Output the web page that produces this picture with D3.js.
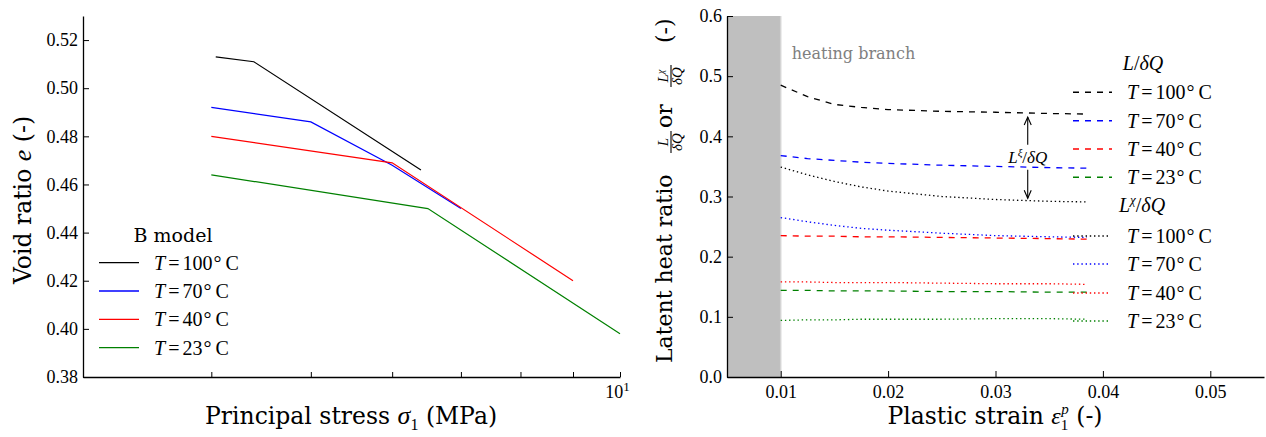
<!DOCTYPE html>
<html><head><meta charset="utf-8">
<script src="https://cdn.jsdelivr.net/npm/d3@7"></script>
<style>body{margin:0;background:#fff} svg{display:block}
.sf{font-family:'DejaVu Serif', serif}
.mf{font-family:'Liberation Serif', 'Times New Roman', serif}
</style>
</head><body><svg id="c" width="1266" height="437"></svg>
<script>
// ---------- LEFT PANEL DATA ----------
const stressDomain = [3, 10];
const voidDomain = [0.38, 0.53];
const stressTicks = [3, 4, 5, 6, 7, 8, 9, 10];
const voidTicks = [0.38, 0.40, 0.42, 0.44, 0.46, 0.48, 0.50, 0.52];
const temps = [100, 70, 40, 23];
const tempColors = ["#000000", "#0000ff", "#ff0000", "#008000"];
const b100Stress = [4.04, 4.4, 6.4];
const b100Void = [0.513, 0.511, 0.466];
const b70Stress = [4.0, 5.0, 6.0, 7.0];
const b70Void = [0.492, 0.486, 0.468, 0.450];
const b40Stress = [4.0, 6.0, 9.0];
const b40Void = [0.480, 0.469, 0.420];
const b23Stress = [4.0, 6.5, 10.0];
const b23Void = [0.464, 0.450, 0.398];

// ---------- RIGHT PANEL DATA ----------
const strainDomain = [0.005, 0.055];
const ratioDomain = [0, 0.6];
const strainTicks = [0.01, 0.02, 0.03, 0.04, 0.05];
const ratioTicks = [0.0, 0.1, 0.2, 0.3, 0.4, 0.5, 0.6];
const heatingSpan = [0.005, 0.01];
const strain = [0.01, 0.0125, 0.015, 0.0175, 0.02, 0.025, 0.03, 0.035, 0.0385];
const L100 = [0.485, 0.466, 0.453, 0.448, 0.4445, 0.4415, 0.440, 0.438, 0.437];
const L70  = [0.368, 0.363, 0.360, 0.357, 0.355, 0.352, 0.350, 0.348, 0.347];
const L40  = [0.235, 0.234, 0.234, 0.233, 0.233, 0.232, 0.231, 0.230, 0.229];
const L23  = [0.144, 0.144, 0.143, 0.143, 0.143, 0.142, 0.142, 0.141, 0.141];
const Lx100 = [0.349, 0.336, 0.325, 0.316, 0.309, 0.300, 0.295, 0.292, 0.291];
const Lx70  = [0.265, 0.258, 0.252, 0.247, 0.244, 0.239, 0.235, 0.233, 0.232];
const Lx40  = [0.158, 0.158, 0.157, 0.157, 0.157, 0.156, 0.155, 0.155, 0.154];
const Lx23  = [0.094, 0.095, 0.095, 0.096, 0.096, 0.096, 0.097, 0.097, 0.096];
const annotStrain = 0.033;
const annotTop = 0.432, annotBottom = 0.297, annotText = 0.366;

const svg = d3.select("#c");
const DOT = "1.4,2.8";

function styleAxis(g) {
  g.attr("font-family", null);
  g.select(".domain").attr("stroke", "#000").attr("stroke-width", 1.3);
  g.selectAll(".tick line").attr("stroke", "#000").attr("stroke-width", 1);
  g.selectAll(".tick text").attr("class", "mf").attr("font-size", 18).attr("fill", "#000");
}

function tempLabel(sel, x, y, t) {
  const txt = sel.append("text").attr("x", x).attr("y", y)
    .attr("class", "mf").attr("font-size", 20).attr("fill", "#000");
  txt.append("tspan").attr("font-style", "italic").text("T");
  txt.append("tspan").attr("dx", 3).text("=");
  txt.append("tspan").attr("dx", 3).text(String(t));
  txt.append("tspan").attr("dx", 1).text("°");
  txt.append("tspan").attr("dx", 4).text("C");
}

// ================= LEFT PANEL =================
const xL = d3.scaleLog().domain(stressDomain).range([83, 620]);
const yL = d3.scaleLinear().domain(voidDomain).range([377, 16]);

const leftSeries = [
  [b100Stress, b100Void], [b70Stress, b70Void], [b40Stress, b40Void], [b23Stress, b23Void]
];
const lineL = d3.line().x(d => xL(d[0])).y(d => yL(d[1]));
leftSeries.forEach((s, i) => {
  svg.append("path").datum(d3.zip(s[0], s[1])).attr("d", lineL)
    .attr("fill", "none").attr("stroke", tempColors[i]).attr("stroke-width", 1.2);
});

const gLy = svg.append("g").attr("transform", `translate(${xL.range()[0]},0)`)
  .call(d3.axisLeft(yL).tickValues(voidTicks).tickFormat(d3.format(".2f"))
    .tickSizeInner(-6).tickSizeOuter(0).tickPadding(5));
styleAxis(gLy);
const gLx = svg.append("g").attr("transform", `translate(0,${yL.range()[0]})`)
  .call(d3.axisBottom(xL).tickValues(stressTicks).tickFormat(d => d === 10 ? "10" : "")
    .tickSizeInner(-5).tickSizeOuter(0).tickPadding(8));
styleAxis(gLx);
gLx.selectAll(".tick text").filter(d => d === 10).attr("dx", -3)
  .append("tspan").attr("dy", -7).attr("font-size", 13).text("1");

// labels
svg.append("text").attr("transform", "translate(31,200) rotate(-90)")
  .attr("text-anchor", "middle").attr("class", "sf").attr("font-size", 23.5)
  .call(t => {
    t.append("tspan").text("Void ratio ");
    t.append("tspan").attr("class", "mf").attr("font-style", "italic").attr("font-size", 26).text("e");
    t.append("tspan").text(" (-)");
  });
svg.append("text").attr("x", 351).attr("y", 424)
  .attr("text-anchor", "middle").attr("class", "sf").attr("font-size", 23.5)
  .call(t => {
    t.append("tspan").text("Principal stress ");
    t.append("tspan").attr("class", "mf").attr("font-style", "italic").attr("font-size", 26).text("σ");
    t.append("tspan").attr("class", "mf").attr("font-size", 16).attr("dy", 6).text("1");
    t.append("tspan").attr("dy", -6).text(" (MPa)");
  });

// legend left
const legL = svg.append("g");
legL.append("text").attr("x", 173).attr("y", 242).attr("text-anchor", "middle")
  .attr("class", "sf").attr("font-size", 19).text("B model");
temps.forEach((t, i) => {
  const y = 262.7 + i * 28.3;
  legL.append("line").attr("x1", 99).attr("x2", 139).attr("y1", y).attr("y2", y)
    .attr("stroke", tempColors[i]).attr("stroke-width", 1.3);
  tempLabel(legL, 154, y + 7, t);
});

// ================= RIGHT PANEL =================
const xR = d3.scaleLinear().domain(strainDomain).range([727, 1264]);
const yR = d3.scaleLinear().domain(ratioDomain).range([377, 16]);

svg.append("rect").attr("x", xR(heatingSpan[0])).attr("y", yR(ratioDomain[1]))
  .attr("width", xR(heatingSpan[1]) - xR(heatingSpan[0]))
  .attr("height", yR(ratioDomain[0]) - yR(ratioDomain[1])).attr("fill", "#bfbfbf");
svg.append("line").attr("x1", xR(heatingSpan[1])).attr("x2", xR(heatingSpan[1]))
  .attr("y1", yR(ratioDomain[1])).attr("y2", yR(ratioDomain[0]))
  .attr("stroke", "#d4d4d4").attr("stroke-width", 1.5);
svg.append("text").attr("x", xR(heatingSpan[1]) + 11).attr("y", 59)
  .attr("class", "sf").attr("font-size", 16).attr("fill", "#808080").text("heating branch");

const lineR = d3.line().x(d => xR(d[0])).y(d => yR(d[1]));
const dashedSeries = [L100, L70, L40, L23];
const dottedSeries = [Lx100, Lx70, Lx40, Lx23];
dashedSeries.forEach((s, i) => {
  svg.append("path").datum(d3.zip(strain, s)).attr("d", lineR)
    .attr("fill", "none").attr("stroke", tempColors[i]).attr("stroke-width", 1.3)
    .attr("stroke-dasharray", "6,6");
});
dottedSeries.forEach((s, i) => {
  svg.append("path").datum(d3.zip(strain, s)).attr("d", lineR)
    .attr("fill", "none").attr("stroke", tempColors[i]).attr("stroke-width", 1.3)
    .attr("stroke-dasharray", DOT);
});

const gRy = svg.append("g").attr("transform", `translate(${xR.range()[0]},0)`)
  .call(d3.axisLeft(yR).tickValues(ratioTicks).tickFormat(d3.format(".1f"))
    .tickSizeInner(-6).tickSizeOuter(0).tickPadding(5));
styleAxis(gRy);
const gRx = svg.append("g").attr("transform", `translate(0,${yR.range()[0]})`)
  .call(d3.axisBottom(xR).tickValues(strainTicks).tickFormat(d3.format(".2f"))
    .tickSizeInner(-6).tickSizeOuter(0).tickPadding(8));
styleAxis(gRx);

// annotation
const ax = xR(annotStrain);
const ty = yR(annotText);
function arrow(y0, y1) {
  svg.append("line").attr("x1", ax).attr("x2", ax).attr("y1", y0).attr("y2", y1)
    .attr("stroke", "#000").attr("stroke-width", 1.1);
  const s = Math.sign(y1 - y0);
  svg.append("path").attr("d", `M${ax - 3.5},${y1 - s * 8} L${ax},${y1} L${ax + 3.5},${y1 - s * 8}`)
    .attr("fill", "none").attr("stroke", "#000").attr("stroke-width", 1.1);
}
arrow(ty - 12, yR(annotTop));
arrow(ty + 13, yR(annotBottom));
svg.append("text").attr("x", ax).attr("y", ty + 6).attr("text-anchor", "middle")
  .attr("class", "mf").attr("font-size", 17)
  .call(t => {
    t.append("tspan").attr("font-style", "italic").text("L");
    t.append("tspan").attr("font-style", "italic").attr("font-size", 11).attr("dy", -7).text("ξ");
    t.append("tspan").attr("dy", 7).text("/");
    t.append("tspan").attr("font-style", "italic").text("δQ");
  });

// x label right
svg.append("text").attr("x", 995).attr("y", 424)
  .attr("text-anchor", "middle").attr("class", "sf").attr("font-size", 23.5)
  .call(t => {
    t.append("tspan").text("Plastic strain ");
    t.append("tspan").attr("class", "mf").attr("font-style", "italic").attr("font-size", 24).text("ε");
    t.append("tspan").attr("class", "mf").attr("font-size", 15).attr("dy", 6).text("1");
    t.append("tspan").attr("class", "mf").attr("font-style", "italic").attr("font-size", 15).attr("dx", -7).attr("dy", -16).text("p");
    t.append("tspan").attr("dy", 10).text("  (-)");
  });

// y label right (rotated, with fractions)
const yl = svg.append("g").attr("transform", "translate(672,363) rotate(-90)");
yl.append("text").attr("x", 0).attr("y", 0).attr("class", "sf").attr("font-size", 22).text("Latent heat ratio");
function frac(cx, numFn) {
  yl.append("line").attr("x1", cx - 11).attr("x2", cx + 11).attr("y1", -1).attr("y2", -1)
    .attr("stroke", "#000").attr("stroke-width", 1.1);
  const n = yl.append("text").attr("x", cx).attr("y", -4).attr("text-anchor", "middle")
    .attr("class", "mf").attr("font-size", 15);
  numFn(n);
  yl.append("text").attr("x", cx).attr("y", 10).attr("text-anchor", "middle")
    .attr("class", "mf").attr("font-style", "italic").attr("font-size", 15).text("δQ");
}
frac(221, n => n.append("tspan").attr("font-style", "italic").text("L"));
yl.append("text").attr("x", 235).attr("y", 0).attr("class", "sf").attr("font-size", 22).text("or");
frac(287, n => {
  n.append("tspan").attr("font-style", "italic").text("L");
  n.append("tspan").attr("font-style", "italic").attr("font-size", 10).attr("dy", -4).text("χ");
});
yl.append("text").attr("x", 320).attr("y", 0).attr("class", "sf").attr("font-size", 22).text("(-)");

// legend right
const legR = svg.append("g");
legR.append("text").attr("x", 1143).attr("y", 70).attr("text-anchor", "middle")
  .attr("class", "mf").attr("font-size", 20)
  .call(t => {
    t.append("tspan").attr("font-style", "italic").text("L");
    t.append("tspan").text("/");
    t.append("tspan").attr("font-style", "italic").text("δQ");
  });
temps.forEach((t, i) => {
  const y = 92.3 + i * 28.35;
  legR.append("line").attr("x1", 1073).attr("x2", 1112).attr("y1", y).attr("y2", y)
    .attr("stroke", tempColors[i]).attr("stroke-width", 1.5).attr("stroke-dasharray", "6,6");
  tempLabel(legR, 1127, y + 7, t);
});
legR.append("text").attr("x", 1142).attr("y", 212).attr("text-anchor", "middle")
  .attr("class", "mf").attr("font-size", 20)
  .call(t => {
    t.append("tspan").attr("font-style", "italic").text("L");
    t.append("tspan").attr("font-style", "italic").attr("font-size", 13).attr("dy", -8).text("χ");
    t.append("tspan").attr("dy", 8).text("/");
    t.append("tspan").attr("font-style", "italic").text("δQ");
  });
temps.forEach((t, i) => {
  const y = Math.round(236 + i * 28.35);
  legR.append("line").attr("x1", 1073).attr("x2", 1110).attr("y1", y).attr("y2", y)
    .attr("stroke", tempColors[i]).attr("stroke-width", 1.6).attr("stroke-dasharray", DOT);
  tempLabel(legR, 1127, y + 7, t);
});
</script></body></html>
